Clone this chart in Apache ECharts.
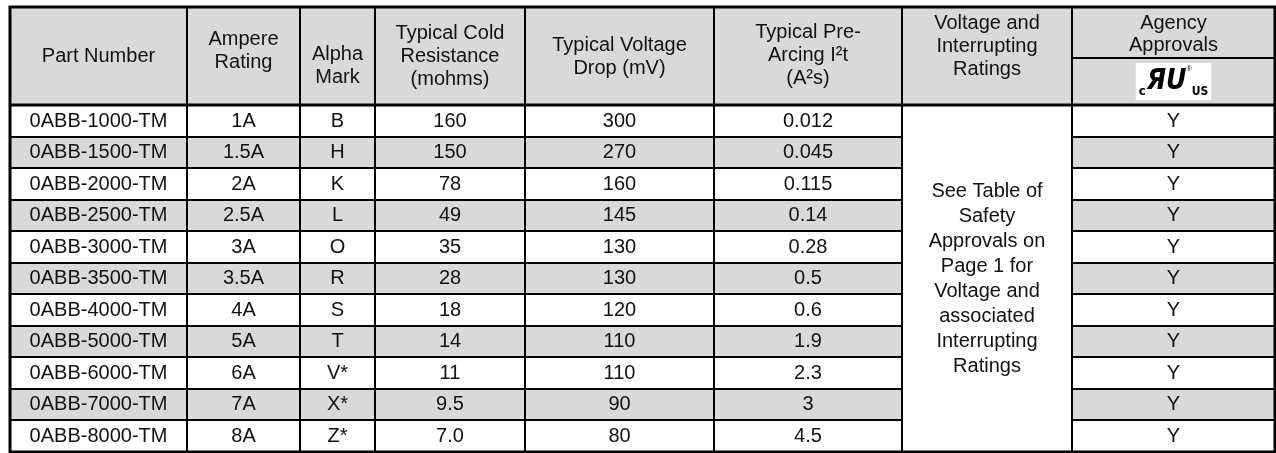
<!DOCTYPE html>
<html><head><meta charset="utf-8">
<script src="https://cdn.jsdelivr.net/npm/echarts@6/dist/echarts.min.js"></script>
<style>html,body{margin:0;padding:0;background:#fff}#c{width:1276px;height:453px}</style>
</head><body><div id="c"></div>
<script>
// ---- data ----
const headerLabels = ['Part Number', 'Ampere\nRating', 'Alpha\nMark', 'Typical Cold\nResistance\n(mohms)', 'Typical Voltage\nDrop (mV)', 'Typical Pre-\nArcing I\u00b2t\n(A\u00b2s)', 'Voltage and\nInterrupting\nRatings', 'Agency\nApprovals'];
const partNumbers = ['0ABB-1000-TM', '0ABB-1500-TM', '0ABB-2000-TM', '0ABB-2500-TM', '0ABB-3000-TM', '0ABB-3500-TM', '0ABB-4000-TM', '0ABB-5000-TM', '0ABB-6000-TM', '0ABB-7000-TM', '0ABB-8000-TM'];
const ampereRatings = ['1A', '1.5A', '2A', '2.5A', '3A', '3.5A', '4A', '5A', '6A', '7A', '8A'];
const alphaMarks = ['B', 'H', 'K', 'L', 'O', 'R', 'S', 'T', 'V*', 'X*', 'Z*'];
const coldResistance = ['160', '150', '78', '49', '35', '28', '18', '14', '11', '9.5', '7.0'];
const voltageDrop = ['300', '270', '160', '145', '130', '130', '120', '110', '110', '90', '80'];
const preArcing = ['0.012', '0.045', '0.115', '0.14', '0.28', '0.5', '0.6', '1.9', '2.3', '3', '4.5'];
const ratingsNote = 'See Table of\nSafety\nApprovals on\nPage 1 for\nVoltage and\nassociated\nInterrupting\nRatings';
const agencyApprovals = ['Y', 'Y', 'Y', 'Y', 'Y', 'Y', 'Y', 'Y', 'Y', 'Y', 'Y'];

// ---- layout / style ----
const colWidths = [177, 113, 75, 150, 189, 188, 170, 203];
const headerHeights = [51, 47];
const tableHeight = 445;
const GREY = '#d9d9d9';
const FONT = '"Liberation Sans", Arial, sans-serif';
const headerDy = [0, -5, 10, 0, 1, -1, -10, 2];

const colEdges = [0];
colWidths.forEach(w => colEdges.push(colEdges[colEdges.length - 1] + w));
const tableWidth = colEdges[colEdges.length - 1];
const headerTotal = headerHeights[0] + headerHeights[1];
const rowH = (tableHeight - headerTotal) / partNumbers.length;
const rowEdges = [0, headerHeights[0], headerTotal];
partNumbers.forEach((_, i) => rowEdges.push(headerTotal + (i + 1) * rowH));

const cells = [];
function addCell(c0, c1, r0, r1, text, o) {
  cells.push(Object.assign({ c0, c1, r0, r1, text, fill: '#fff', dy: 0, lineHeight: 23 }, o || {}));
}
for (let c = 0; c < 7; c++) addCell(c, c + 1, 0, 2, headerLabels[c], { fill: GREY, dy: headerDy[c] });
addCell(7, 8, 0, 1, headerLabels[7], { fill: GREY, dy: headerDy[7], lineHeight: 22 });
addCell(7, 8, 1, 2, '{c|c}{ur|\u042fU}{r|\u00ae}{us|US}', { fill: GREY, logo: true });
const bodyCols = [partNumbers, ampereRatings, alphaMarks, coldResistance, voltageDrop, preArcing];
partNumbers.forEach((_, i) => {
  const fill = i % 2 ? GREY : '#fff';
  bodyCols.forEach((arr, c) => addCell(c, c + 1, i + 2, i + 3, arr[i], { fill }));
  addCell(7, 8, i + 2, i + 3, agencyApprovals[i], { fill });
});
addCell(6, 7, 2, 2 + partNumbers.length, ratingsNote, { fill: '#fff', lineHeight: 25 });

const cellData = cells.map((c, i) => [colEdges[c.c0], rowEdges[c.r0], colEdges[c.c1], rowEdges[c.r1], i]);

function box(api) {
  const a = api.coord([api.value(0), api.value(1)]);
  const b = api.coord([api.value(2), api.value(3)]);
  const x = Math.round(Math.min(a[0], b[0])), y = Math.round(Math.min(a[1], b[1]));
  const x2 = Math.round(Math.max(a[0], b[0])), y2 = Math.round(Math.max(a[1], b[1]));
  return { x, y, width: x2 - x, height: y2 - y };
}

const chart = echarts.init(document.getElementById('c'), null, { renderer: 'canvas' });
chart.setOption({
  animation: false,
  grid: { left: 10, top: 7, width: tableWidth, height: tableHeight },
  xAxis: { type: 'value', min: 0, max: tableWidth, show: false },
  yAxis: { type: 'value', min: 0, max: tableHeight, inverse: true, show: false },
  series: [{
    type: 'custom',
    clip: false,
    silent: true,
    data: cellData,
    renderItem: function (params, api) {
      const s = box(api);
      const cell = cells[api.value(4)];
      const children = [{
        type: 'rect', shape: s,
        style: { fill: cell.fill, stroke: '#000', lineWidth: 2 }
      }];
      const tStyle = {
        text: cell.text, x: s.x + s.width / 2, y: s.y + s.height / 2 + cell.dy,
        align: 'center', verticalAlign: 'middle', fill: '#111',
        fontFamily: FONT, fontSize: 20, lineHeight: cell.lineHeight
      };
      if (cell.logo) {
        Object.assign(tStyle, {
          backgroundColor: '#fff', padding: [3, 3, 2, 3], lineHeight: 32,
          rich: {
            c: { fontFamily: '"DejaVu Sans Condensed", sans-serif', fontWeight: 'bold', fontSize: 13, fill: '#000', verticalAlign: 'bottom', lineHeight: 32, padding: [0, 1, 0, 0] },
            ur: { fontFamily: '"DejaVu Sans Condensed", sans-serif', fontWeight: 'bold', fontStyle: 'italic', fontSize: 28, fill: '#000', lineHeight: 32 },
            r: { fontFamily: FONT, fontSize: 7, fill: '#000', verticalAlign: 'top', lineHeight: 32 },
            us: { fontFamily: '"DejaVu Sans Condensed", sans-serif', fontWeight: 'bold', fontSize: 12, fill: '#000', verticalAlign: 'bottom', lineHeight: 32 }
          }
        });
      }
      children.push({ type: 'text', style: tStyle });
      return { type: 'group', children };
    }
  }, {
    type: 'custom',
    clip: false,
    silent: true,
    z: 5,
    data: [[0, 0, tableWidth, tableHeight, 0], [0, headerTotal, tableWidth, headerTotal, 1]],
    renderItem: function (params, api) {
      const s = box(api);
      if (api.value(4) === 0) {
        return { type: 'rect', shape: s, style: { fill: 'none', stroke: '#000', lineWidth: 3 } };
      }
      return { type: 'line', shape: { x1: s.x, y1: s.y, x2: s.x + s.width, y2: s.y }, style: { stroke: '#000', lineWidth: 3 } };
    }
  }]
});
</script>
</body></html>
